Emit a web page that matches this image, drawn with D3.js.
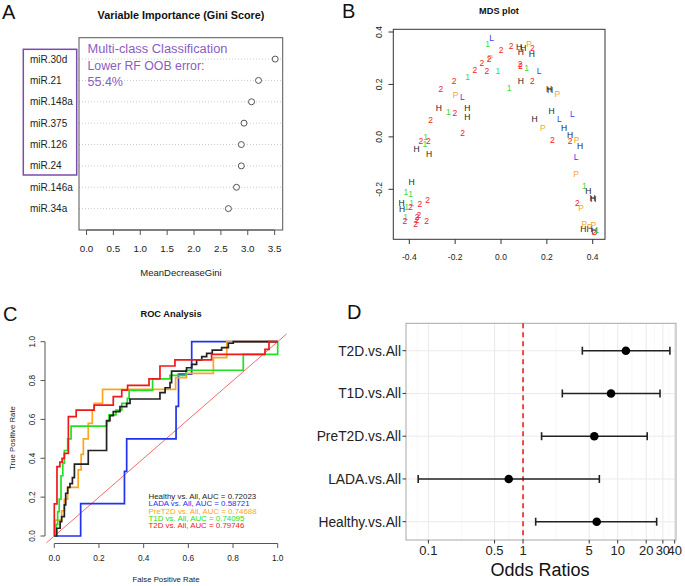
<!DOCTYPE html>
<html><head><meta charset="utf-8">
<script src="https://d3js.org/d3.v7.min.js"></script>
<style>body{margin:0;background:#fff}svg{display:block}text{font-family:"Liberation Sans",Arial,sans-serif}</style>
</head><body>
<svg id="c" width="685" height="586"></svg>
<script>
// ---------- Panel A data ----------
const giniLabels = ["miR.30d","miR.21","miR.148a","miR.375","miR.126","miR.24","miR.146a","miR.34a"];
const giniValues = [3.51,3.20,3.07,2.93,2.88,2.88,2.79,2.64];
const giniTicks = [0,0.5,1,1.5,2,2.5,3,3.5];
const noteLines = ["Multi-class Classification","Lower  RF OOB error:","55.4%"];

// ---------- Panel B data ----------
const mdsLab = ["L","1","2","2","H","H","P","2","H","H","P","2","2","2","2","1","2","2","1","L","1","2","H","2","1","2","H","H","P","P","L","H","1","2","H","H","2","H","H","L","L","P","H","H","2","1","2","2","1","2","2","P","H","H","H","L","P","H","1","1","1","H","H","H","H","H","1","1","2","2","2","2","P","2","2","1","2","2","2","2","P","P","H","H","P","H","2","1"];
const mdsX = [-0.041,-0.058,0.0,0.044,0.079,0.097,0.122,0.137,0.087,0.134,-0.048,-0.052,-0.084,-0.114,-0.062,-0.014,0.083,0.086,0.112,0.166,-0.146,-0.205,0.087,0.137,0.035,-0.262,0.210,0.214,0.246,-0.198,-0.169,-0.271,-0.230,-0.201,-0.147,-0.147,-0.307,0.146,0.221,0.255,0.311,0.182,0.275,0.301,-0.167,-0.329,-0.349,-0.317,-0.332,0.224,0.301,0.330,0.345,-0.368,-0.314,0.328,0.328,-0.390,-0.415,-0.394,0.364,0.381,0.403,0.399,-0.434,-0.431,-0.412,-0.390,-0.394,-0.354,-0.320,0.333,0.349,-0.358,-0.366,-0.416,-0.419,-0.372,-0.366,-0.324,0.364,0.403,0.359,0.386,0.388,0.407,0.407,0.418];
const mdsY = [0.379,0.353,0.332,0.348,0.344,0.340,0.353,0.340,0.323,0.316,0.300,0.296,0.281,0.255,0.251,0.251,0.277,0.270,0.261,0.251,0.227,0.212,0.213,0.213,0.185,0.182,0.182,0.180,0.162,0.159,0.153,0.112,0.096,0.092,0.112,0.074,0.064,0.068,0.098,0.068,0.089,0.034,0.034,0.009,0.015,0.000,-0.015,-0.015,-0.028,-0.013,-0.015,-0.013,-0.036,-0.048,-0.067,-0.076,-0.140,-0.174,-0.210,-0.217,-0.187,-0.208,-0.236,-0.233,-0.252,-0.274,-0.268,-0.251,-0.268,-0.255,-0.240,-0.252,-0.271,-0.297,-0.306,-0.306,-0.321,-0.331,-0.318,-0.322,-0.331,-0.338,-0.353,-0.353,-0.345,-0.359,-0.362,-0.354];
const mdsXTicks = [-0.4,-0.2,0.0,0.2,0.4];
const mdsYTicks = [-0.2,0.0,0.2,0.4];

// ---------- Panel C data ----------
const rocHealthy = [[0,0],[0.011,0],[0.011,0.04],[0.026,0.04],[0.026,0.074],[0.033,0.074],[0.033,0.1],[0.045,0.1],[0.045,0.16],[0.051,0.16],[0.051,0.22],[0.06,0.22],[0.06,0.25],[0.07,0.25],[0.07,0.27],[0.081,0.27],[0.081,0.3],[0.09,0.3],[0.09,0.37],[0.152,0.37],[0.152,0.44],[0.234,0.44],[0.234,0.594],[0.249,0.594],[0.249,0.62],[0.264,0.62],[0.264,0.64],[0.294,0.64],[0.294,0.666],[0.324,0.666],[0.324,0.683],[0.339,0.683],[0.339,0.705],[0.473,0.705],[0.473,0.738],[0.496,0.738],[0.496,0.763],[0.518,0.763],[0.518,0.789],[0.525,0.789],[0.525,0.849],[0.592,0.849],[0.592,0.866],[0.615,0.866],[0.615,0.883],[0.637,0.883],[0.637,0.906],[0.66,0.906],[0.66,0.923],[0.682,0.923],[0.682,0.94],[0.707,0.94],[0.707,0.957],[0.749,0.957],[0.749,0.969],[0.779,0.969],[0.779,0.992],[0.801,0.992],[0.801,1],[1,1]];
const rocLADA = [[0,0],[0.118,0],[0.118,0.167],[0.314,0.167],[0.314,0.333],[0.324,0.333],[0.324,0.5],[0.545,0.5],[0.545,0.667],[0.556,0.667],[0.556,0.833],[0.615,0.833],[0.615,1],[1,1]];
const rocPreT2D = [[0,0],[0.003,0],[0.003,0.082],[0.033,0.082],[0.033,0.13],[0.045,0.13],[0.045,0.19],[0.06,0.19],[0.06,0.25],[0.107,0.25],[0.107,0.34],[0.12,0.34],[0.12,0.42],[0.13,0.42],[0.13,0.5],[0.152,0.5],[0.152,0.58],[0.17,0.58],[0.17,0.648],[0.179,0.648],[0.179,0.683],[0.216,0.683],[0.216,0.755],[0.543,0.755],[0.543,0.815],[0.592,0.815],[0.592,0.837],[0.712,0.837],[0.712,0.918],[0.772,0.918],[0.772,1],[1,1]];
const rocT1D = [[0,0],[0.008,0],[0.008,0.06],[0.015,0.06],[0.015,0.125],[0.022,0.125],[0.022,0.19],[0.03,0.19],[0.03,0.31],[0.038,0.31],[0.038,0.375],[0.045,0.375],[0.045,0.44],[0.06,0.44],[0.06,0.5],[0.075,0.5],[0.075,0.566],[0.234,0.566],[0.234,0.59],[0.245,0.59],[0.245,0.623],[0.276,0.623],[0.276,0.648],[0.302,0.648],[0.302,0.683],[0.327,0.683],[0.327,0.708],[0.335,0.708],[0.335,0.75],[0.44,0.75],[0.44,0.809],[0.518,0.809],[0.518,0.827],[0.589,0.827],[0.589,0.853],[0.846,0.853],[0.846,0.935],[1,0.935],[1,1]];
const rocT2D = [[0,0],[0,0.165],[0.012,0.165],[0.012,0.357],[0.025,0.357],[0.025,0.38],[0.035,0.38],[0.035,0.4],[0.045,0.4],[0.045,0.425],[0.063,0.425],[0.063,0.614],[0.098,0.614],[0.098,0.648],[0.178,0.648],[0.178,0.674],[0.264,0.674],[0.264,0.717],[0.302,0.717],[0.302,0.751],[0.328,0.751],[0.328,0.775],[0.424,0.775],[0.424,0.809],[0.473,0.809],[0.473,0.875],[0.54,0.875],[0.54,0.906],[0.704,0.906],[0.704,0.935],[0.943,0.935],[0.943,0.961],[0.961,0.961],[0.961,1],[1,1]];
const rocNames = ["Healthy vs. All, AUC = 0.72023","LADA vs. All, AUC = 0.58721","PreT2D vs. All, AUC = 0.74688","T1D vs. All, AUC = 0.74095","T2D vs. All, AUC = 0.79746"];
const rocTicks = [0,0.2,0.4,0.6,0.8,1.0];

// ---------- Panel D data ----------
const orGroups = ["T2D.vs.All","T1D.vs.All","PreT2D.vs.All","LADA.vs.All","Healthy.vs.All"];
const orEst = [12.2,8.5,5.66,0.706,6.0];
const orLow = [4.23,2.6,1.57,0.078,1.36];
const orHigh = [35.6,28,20.5,6.4,25.8];
const orTicks = [0.1,0.5,1,5,10,20,30,40];
const orTickLabels = ["0.1","0.5","1","5","10","20","30","40"];

const svg = d3.select("#c");

// panel letters
[["A",2,19],["B",342,18],["C",3,321],["D",347,319]].forEach(([t,x,y])=>{
  svg.append("text").attr("x",x).attr("y",y).attr("font-size",20).attr("font-family",'"Open Sans",sans-serif').attr("fill","#111").text(t);
});

// ================= Panel A =================
{
  const g = svg.append("g");
  const x = d3.scaleLinear().domain([-0.14,3.65]).range([79,282.7]);
  const y = d3.scaleLinear().domain([0,9]).range([37.7,230]);
  g.append("text").attr("x",181).attr("y",18.5).attr("text-anchor","middle").attr("font-weight","bold").attr("font-size",10.8).attr("fill","#111").text("Variable Importance (Gini Score)");
  giniLabels.forEach((lab,i)=>{
    g.append("line").attr("x1",x(-0.14)).attr("x2",x(3.65)).attr("y1",y(i+1)).attr("y2",y(i+1)).attr("stroke","#bbb").attr("stroke-width",0.8).attr("stroke-dasharray","1,2");
    g.append("text").attr("x",30).attr("y",y(i+1)+3.5).attr("font-size",10).attr("fill","#222").text(lab);
    g.append("circle").attr("cx",x(giniValues[i])).attr("cy",y(i+1)).attr("r",3).attr("fill","#fff").attr("stroke","#555").attr("stroke-width",1);
  });
  g.append("rect").attr("x",79).attr("y",37.7).attr("width",203.7).attr("height",192.3).attr("fill","none").attr("stroke","#555").attr("stroke-width",1);
  g.append("line").attr("x1",x(0)).attr("x2",x(3.5)).attr("y1",230).attr("y2",230).attr("stroke","#555");
  giniTicks.forEach(t=>{
    g.append("line").attr("x1",x(t)).attr("x2",x(t)).attr("y1",230).attr("y2",235).attr("stroke","#555");
    g.append("text").attr("x",x(t)).attr("y",252).attr("text-anchor","middle").attr("font-size",9.8).attr("fill","#222").text(t.toFixed(1));
  });
  g.append("text").attr("x",181).attr("y",276).attr("text-anchor","middle").attr("font-size",9.5).attr("fill","#222").text("MeanDecreaseGini");
  g.append("rect").attr("x",23.3).attr("y",49.3).attr("width",53.4).attr("height",125.7).attr("fill","none").attr("stroke","#7a4bb0").attr("stroke-width",1.5);
  noteLines.forEach((t,i)=>{
    const tx = g.append("text").attr("x",87.5).attr("y",53+i*16.6).attr("font-size",12.5).attr("font-family",'"Open Sans",sans-serif').attr("fill","#8a5cc4").text(t);
    if(i===0) tx.attr("textLength",140).attr("lengthAdjust","spacingAndGlyphs");
    if(i===1) tx.attr("textLength",117).attr("lengthAdjust","spacingAndGlyphs");
  });
}

// ================= Panel B =================
{
  const g = svg.append("g");
  const x = d3.scaleLinear().domain([-0.4,0.4]).range([409.3,592.7]);
  const y = d3.scaleLinear().domain([-0.2,0.4]).range([189.3,32]);
  g.append("text").attr("x",499).attr("y",13.5).attr("text-anchor","middle").attr("font-weight","bold").attr("font-size",9.2).attr("fill","#111").text("MDS plot");
  g.append("rect").attr("x",393.3).attr("y",29.3).attr("width",211.7).attr("height",210).attr("fill","none").attr("stroke","#333").attr("stroke-width",1);
  mdsXTicks.forEach(t=>{
    g.append("line").attr("x1",x(t)).attr("x2",x(t)).attr("y1",239.3).attr("y2",244).attr("stroke","#333");
    g.append("text").attr("x",x(t)).attr("y",260).attr("text-anchor","middle").attr("font-size",8.5).attr("fill","#222").text(d3.format(".1f")(t).replace("−","-"));
  });
  mdsYTicks.forEach(t=>{
    g.append("line").attr("x1",388.5).attr("x2",393.3).attr("y1",y(t)).attr("y2",y(t)).attr("stroke","#333");
    g.append("text").attr("transform",`translate(382,${y(t)}) rotate(-90)`).attr("text-anchor","middle").attr("font-size",8.5).attr("fill","#222").text(d3.format(".1f")(t).replace("−","-"));
  });
  const col = {"2":"#f22222","H":"#222222","1":"#35dd35","P":"#f7a61a","L":"#3a3af0"};
  mdsLab.forEach((l,i)=>{
    g.append("text").attr("x",x(mdsX[i])).attr("y",y(mdsY[i])+3).attr("text-anchor","middle").attr("font-size",8.5).attr("fill",col[l]).text(l);
  });
}

// ================= Panel C =================
{
  const g = svg.append("g");
  const x = d3.scaleLinear().domain([0,1]).range([54.3,277.7]);
  const y = d3.scaleLinear().domain([0,1]).range([536,341.7]);
  g.append("text").attr("x",171).attr("y",316.5).attr("text-anchor","middle").attr("font-weight","bold").attr("font-size",9.3).attr("fill","#111").text("ROC Analysis");
  g.append("line").attr("x1",x(0)).attr("x2",x(1)).attr("y1",543.5).attr("y2",543.5).attr("stroke","#555");
  g.append("line").attr("x1",45).attr("x2",45).attr("y1",y(0)).attr("y2",y(1)).attr("stroke","#555");
  rocTicks.forEach(t=>{
    g.append("line").attr("x1",x(t)).attr("x2",x(t)).attr("y1",543.5).attr("y2",548).attr("stroke","#555");
    g.append("text").attr("x",x(t)).attr("y",561).attr("text-anchor","middle").attr("font-size",8.3).attr("fill","#222").text(t.toFixed(1));
    g.append("line").attr("x1",40.5).attr("x2",45).attr("y1",y(t)).attr("y2",y(t)).attr("stroke","#555");
    g.append("text").attr("transform",`translate(34.5,${y(t)}) rotate(-90)`).attr("text-anchor","middle").attr("font-size",8.3).attr("fill","#222").text(t.toFixed(1));
  });
  g.append("text").attr("x",166).attr("y",582).attr("text-anchor","middle").attr("font-size",7.8).attr("fill","#222").text("False Positive Rate");
  g.append("text").attr("transform","translate(14.5,438) rotate(-90)").attr("text-anchor","middle").attr("font-size",7.8).attr("fill","#222").text("True Positive Rate");
  g.append("line").attr("x1",x(-0.035)).attr("y1",y(-0.035)).attr("x2",x(1.04)).attr("y2",y(1.04)).attr("stroke","#f26b6b").attr("stroke-width",1);
  const line = d3.line().x(d=>x(d[0])).y(d=>y(d[1]));
  const curves = [rocLADA,rocPreT2D,rocT1D,rocHealthy,rocT2D];
  const cols = ["#2233ee","#ffa520","#22e022","#222222","#f01818"];
  curves.forEach((c,i)=>{
    g.append("path").attr("d",line(c)).attr("fill","none").attr("stroke",cols[i]).attr("stroke-width",1.7);
  });
  const legCols = ["#222222","#2233ee","#ffa520","#22e022","#f01818"];
  rocNames.forEach((t,i)=>{
    g.append("text").attr("x",148.5).attr("y",499+i*7.35).attr("font-size",7.9).attr("fill",legCols[i]).text(t);
  });
}

// ================= Panel D =================
{
  const g = svg.append("g");
  const L=406, R=676, T=323.3, B=540;
  const x = d3.scaleLog().domain([0.058,41.3]).range([L,R]);
  const y = d3.scalePoint().domain(orGroups).range([350.7,521.7]);
  g.append("rect").attr("x",L).attr("y",T).attr("width",R-L).attr("height",B-T).attr("fill","#fff");
  const minor = [];
  const lt = [Math.log10(0.058)].concat(orTicks.map(Math.log10));
  for(let i=0;i<lt.length-1;i++) minor.push(Math.pow(10,(lt[i]+lt[i+1])/2));
  minor.forEach(m=>{
    g.append("line").attr("x1",x(m)).attr("x2",x(m)).attr("y1",T).attr("y2",B).attr("stroke","#f4f4f4").attr("stroke-width",0.6);
  });
  orTicks.forEach(t=>{
    g.append("line").attr("x1",x(t)).attr("x2",x(t)).attr("y1",T).attr("y2",B).attr("stroke","#ebebeb").attr("stroke-width",1.1);
  });
  orGroups.forEach(c=>{
    g.append("line").attr("x1",L).attr("x2",R).attr("y1",y(c)).attr("y2",y(c)).attr("stroke","#ebebeb").attr("stroke-width",1.1);
  });
  g.append("rect").attr("x",L).attr("y",T).attr("width",R-L).attr("height",B-T).attr("fill","none").attr("stroke","#a8a8a8").attr("stroke-width",1);
  g.append("line").attr("x1",x(1)).attr("x2",x(1)).attr("y1",T).attr("y2",B).attr("stroke","#f02020").attr("stroke-width",1.6).attr("stroke-dasharray","5,4");
  orGroups.forEach((c,i)=>{
    const yy=y(c);
    g.append("line").attr("x1",x(orLow[i])).attr("x2",x(orHigh[i])).attr("y1",yy).attr("y2",yy).attr("stroke","#222").attr("stroke-width",1.6);
    [orLow[i],orHigh[i]].forEach(v=>{
      g.append("line").attr("x1",x(v)).attr("x2",x(v)).attr("y1",yy-4).attr("y2",yy+4).attr("stroke","#222").attr("stroke-width",1.6);
    });
    g.append("circle").attr("cx",x(orEst[i])).attr("cy",yy).attr("r",4.3).attr("fill","#000");
    g.append("line").attr("x1",L-3.5).attr("x2",L).attr("y1",yy).attr("y2",yy).attr("stroke","#333");
    g.append("text").attr("x",L-5).attr("y",yy+5).attr("text-anchor","end").attr("font-size",13.8).attr("fill","#222").text(c);
  });
  orTicks.forEach((t,i)=>{
    g.append("line").attr("x1",x(t)).attr("x2",x(t)).attr("y1",B).attr("y2",B+3.5).attr("stroke","#333");
    g.append("text").attr("x",x(t)).attr("y",B+15).attr("text-anchor","middle").attr("font-size",13).attr("fill","#222").text(orTickLabels[i]);
  });
  g.append("text").attr("x",540).attr("y",576).attr("text-anchor","middle").attr("font-size",18).attr("fill","#111").text("Odds Ratios");
}
</script>
</body></html>
